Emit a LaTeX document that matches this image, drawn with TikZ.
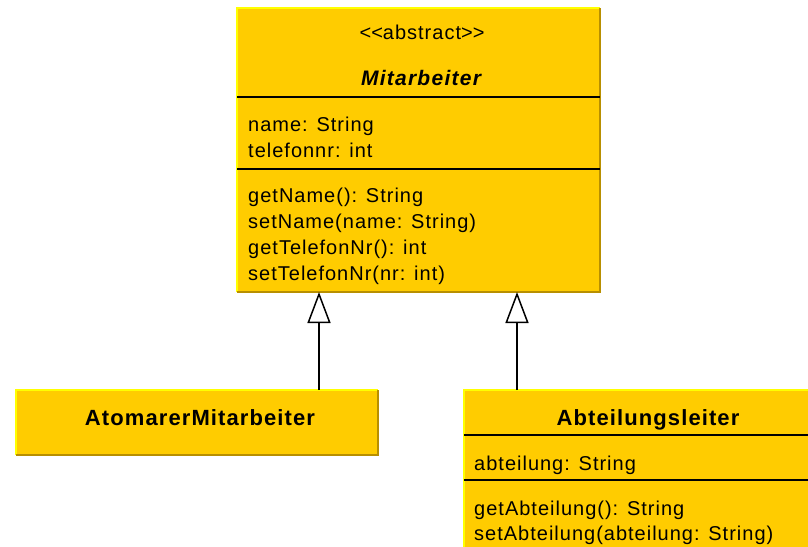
\documentclass[tikz,border=0pt]{standalone}
\usepackage{fontspec}
\setmainfont{Liberation Sans}
\usetikzlibrary{arrows.meta,positioning}
\definecolor{umlfill}{HTML}{FFCC00}
\definecolor{umllight}{HTML}{FFFF00}
\definecolor{umldark}{HTML}{B88F00}
\def\bevel(#1){%
  \draw[umllight, line width=1.5] (#1.south west) -- (#1.north west) -- (#1.north east);
  \draw[umldark, line width=1.5] (#1.north east) -- (#1.south east) -- (#1.south west);}
\def\divider(#1)(#2){\draw[line width=1.5] (#1.west |- 0,#2) -- (#1.east |- 0,#2);}

\begin{document}
\begin{tikzpicture}[x=1pt, y=-1pt,
    classbox/.style={fill=umlfill, inner sep=0pt, outer sep=0pt, anchor=north west},
    member/.style={anchor=base west, inner sep=0pt, font=\fontsize{20}{26}\selectfont\addfontfeature{LetterSpace=5}},
    title/.style={anchor=base, inner sep=0pt, font=\fontsize{22}{26}\selectfont\bfseries\addfontfeature{LetterSpace=5}},
    inherit/.style={line width=1.5, -{Triangle[open, fill=white, length=31pt, width=23pt]}}]
  \clip (0,0) rectangle (808,546);

  %%%%% Mitarbeiter %%%%%
  \node[classbox, minimum width=363pt, minimum height=284pt] (mitarbeiter) at (237,8) {};
  \bevel(mitarbeiter)
  \divider(mitarbeiter)(97)
  \divider(mitarbeiter)(169)
  \node[title, font=\fontsize{20}{26}\selectfont\addfontfeature{LetterSpace=5}] (stereo) at (422,39) {\mbox{<}\mbox{<}abstract\mbox{>}\mbox{>}};
  \node[title, font=\fontsize{21}{26}\selectfont\bfseries\itshape\addfontfeature{LetterSpace=6}] (mname) at (421,85) {Mitarbeiter};
  \node[member] (mattr1) at (248,131) {name: String};
  \node[member] (mattr2) at (248,157) {telefonnr: int};
  \node[member] (mop1) at (248,202) {getName(): String};
  \node[member] (mop2) at (248,228) {setName(name: String)};
  \node[member] (mop3) at (248,254) {getTelefonNr(): int};
  \node[member] (mop4) at (248,280) {setTelefonNr(nr: int)};

  %%%%% AtomarerMitarbeiter %%%%%
  \node[classbox, minimum width=362pt, minimum height=65pt] (atomar) at (16,390) {};
  \bevel(atomar)
  \node[title] (aname) at (200,425) {AtomarerMitarbeiter};

  %%%%% Abteilungsleiter %%%%%
  \node[classbox, minimum width=352pt, minimum height=170pt] (leiter) at (464,390) {};
  \bevel(leiter)
  \divider(leiter)(435)
  \divider(leiter)(480)
  \node[title] (lname) at (648,425) {Abteilungsleiter};
  \node[member] (lattr1) at (474,470) {abteilung: String};
  \node[member] (lop1) at (474,515) {getAbteilung(): String};
  \node[member] (lop2) at (474,540) {setAbteilung(abteilung: String)};

  %%%%% generalisation %%%%%
  \coordinate (g1) at (319,0);
  \coordinate (g2) at (517,0);
  \draw[inherit] (atomar.north -| g1) -- (g1 |- mitarbeiter.south);
  \draw[inherit] (leiter.north -| g2) -- (g2 |- mitarbeiter.south);
\end{tikzpicture}
\end{document}
